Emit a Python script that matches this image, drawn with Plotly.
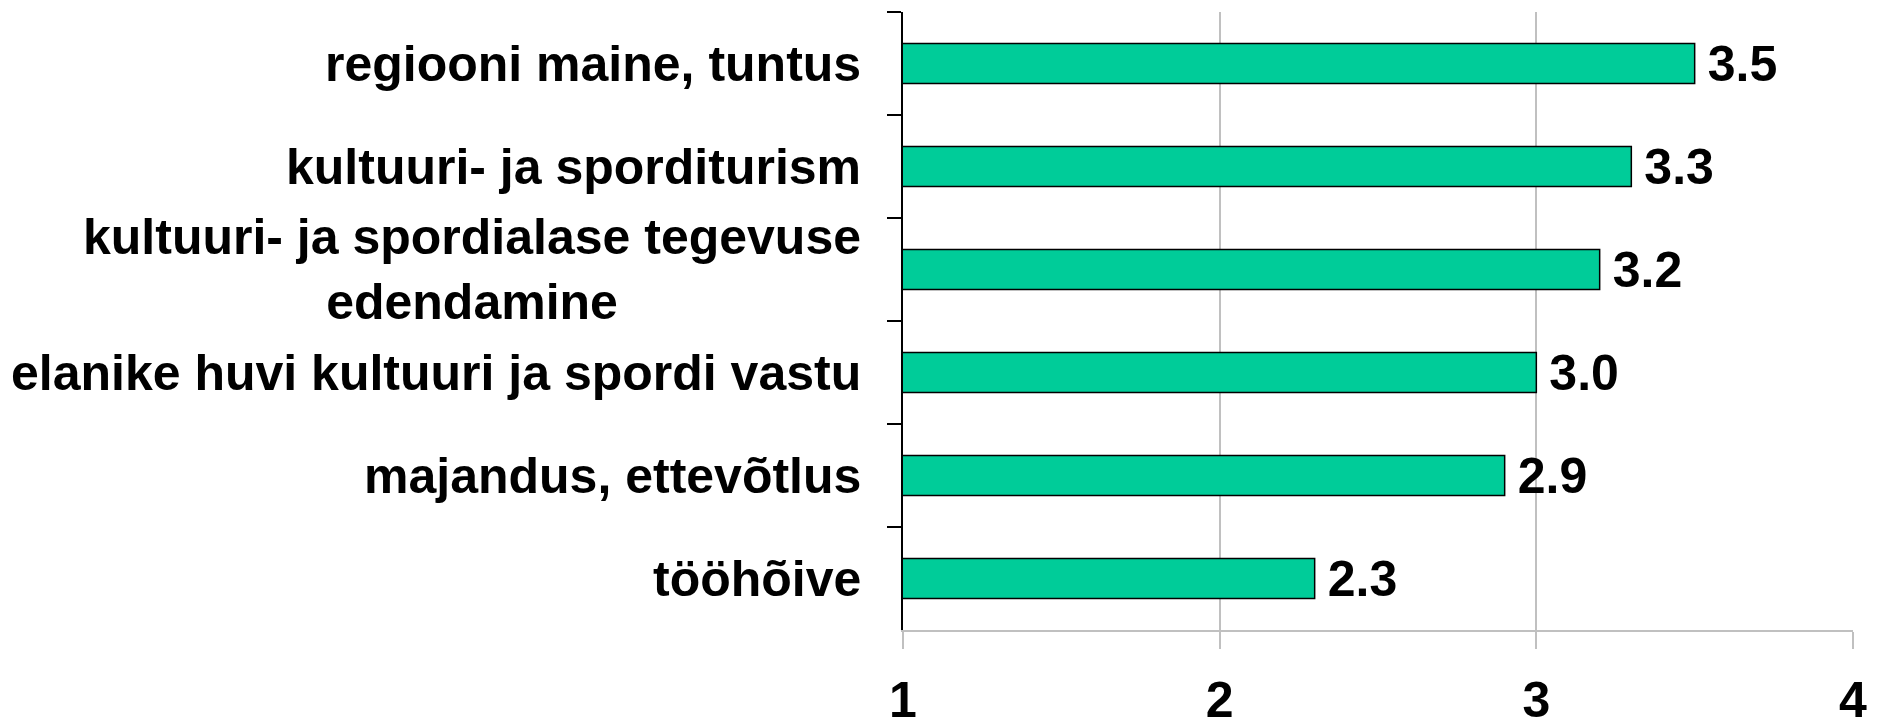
import plotly.graph_objects as go

categories = [
    "regiooni maine, tuntus",
    "kultuuri- ja sporditurism",
    "kultuuri- ja spordialase tegevuse<br>edendamine",
    "elanike huvi kultuuri ja spordi vastu",
    "majandus, ettevõtlus",
    "tööhõive",
]
values = [3.5, 3.3, 3.2, 3.0, 2.9, 2.3]
x_ticks = [1, 2, 3, 4]

FONT = "Liberation Sans"

fig = go.Figure()
fig.add_trace(go.Bar(
    y=categories,
    x=values,
    base=0,
    orientation="h",
    width=0.39,
    marker=dict(color="#00CC99", line=dict(color="#000000", width=1.5)),
    text=["\u2009" + f"{v:.1f}" for v in values],
    textposition="outside",
    constraintext="none",
    cliponaxis=False,
    textfont=dict(family=FONT, size=50, color="#000000", weight="bold"),
    hoverinfo="skip",
))

for c in categories:
    fig.add_annotation(
        x=0, xref="paper", y=c, yref="y",
        text=c, showarrow=False,
        xanchor="right", yanchor="middle", align="center",
        xshift=-40,
        font=dict(family=FONT, size=50, color="#000000", weight="bold"),
    )

fig.update_layout(
    template="none",
    width=1875, height=719,
    margin=dict(l=895, r=30, t=4, b=97, autoexpand=False),
    paper_bgcolor="white", plot_bgcolor="white",
    showlegend=False,
    bargap=0.6,
)
fig.update_xaxes(
    automargin=False,
    range=[1, 4],
    tickvals=x_ticks,
    ticktext=[str(t) for t in x_ticks],
    showgrid=True, gridcolor="#c0c0c0", gridwidth=1.5,
    showline=True, linecolor="#c0c0c0", linewidth=1.5,
    ticks="outside", ticklen=17, tickcolor="#c0c0c0", tickwidth=1.5,
    ticklabelstandoff=8,
    tickfont=dict(family=FONT, size=50, color="#000000", weight="bold"),
    zeroline=False,
)
fig.update_yaxes(
    automargin=False,
    categoryorder="array", categoryarray=categories,
    autorange="reversed",
    showticklabels=False,
    showline=True, linecolor="#000000", linewidth=1.5,
    ticks="outside", ticklen=14, tickcolor="#000000", tickwidth=1.5,
    tickson="boundaries",
    showgrid=False, zeroline=False,
)

fig.write_html("out.html")
